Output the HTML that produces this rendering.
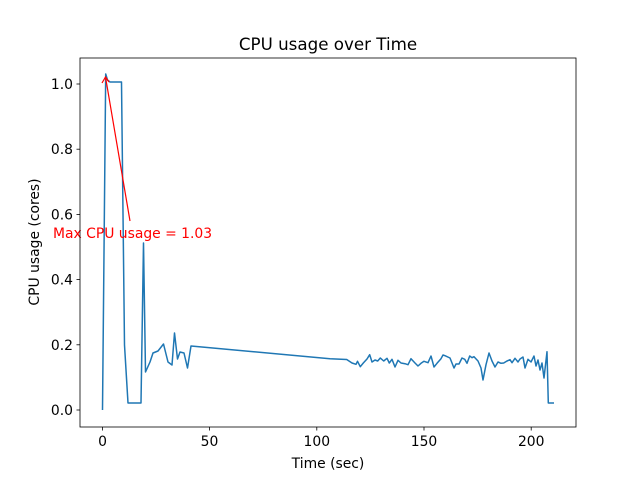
<!DOCTYPE html>
<html><head><style>body{margin:0;background:#fff}svg{display:block}text{font-family:"DejaVu Sans","Liberation Sans",sans-serif}</style></head><body>
<svg width="640" height="480" xmlns="http://www.w3.org/2000/svg">
<rect width="640" height="480" fill="#fff"/>
<text x="328" y="50" font-size="16.7" text-anchor="middle">CPU usage over Time</text>
<polyline fill="none" stroke="#1f77b4" stroke-width="1.5" stroke-linejoin="round" points="102.5,410 105.7,74 107.5,80 110,82 121,82 121.5,82 124.5,345 128,403 141,403 143.5,243 145.5,372 150,362 153,353 158,351 163.5,344 168,362 172,365 174.5,333 177.5,359 180,352 184,353 187.5,368 191,346 330,358.7 346.7,359.5 352,363 356,364.3 357.5,361.3 360.3,366.7 363.3,363 367,359 369.7,354.7 372,362 375,360 377.7,361 380.3,358 383.7,361 387,358.3 389.3,363 392,359.3 395,367 398,360.3 401,363 405,363.7 408,364.7 411,358.7 415,363 418,366 421,363.3 424,361.3 428,362.7 431,356 434,367 437,363.3 441,358.7 443,355 445,355.7 450,358 454,368 456,364 459,364 462,358 464.7,359.3 467,363.3 469.7,356 472,357.7 474,356.7 478,361 481,368 483,380 486,364.7 489,353 492,361 495,367 498,362 501,363.3 503.7,363 507,361 510,359.7 512,362.7 515,358.3 518,362 520,359 523,357 525,368 528,359.3 531,362 534,356 536,366 538,360 540,370 542,363 544,378 547,351.7 548.3,403 554,403"/>
<line x1="130" y1="221" x2="105.5" y2="77" stroke="red" stroke-width="1.2"/>
<polyline points="102,83 105.5,77 109,82" fill="none" stroke="red" stroke-width="1.2"/>
<text x="53" y="238" font-size="13.9" fill="red">Max CPU usage = 1.03</text>
<rect x="80" y="58" width="496" height="369" fill="none" stroke="#000" stroke-width="0.8"/>
<g stroke="#000" stroke-width="0.8">
<line x1="102.5" y1="427" x2="102.5" y2="430.5"/><line x1="209.5" y1="427" x2="209.5" y2="430.5"/><line x1="316.8" y1="427" x2="316.8" y2="430.5"/><line x1="424" y1="427" x2="424" y2="430.5"/><line x1="531.2" y1="427" x2="531.2" y2="430.5"/>
<line x1="76.5" y1="410" x2="80" y2="410"/><line x1="76.5" y1="344.8" x2="80" y2="344.8"/><line x1="76.5" y1="279.6" x2="80" y2="279.6"/><line x1="76.5" y1="214.4" x2="80" y2="214.4"/><line x1="76.5" y1="149.2" x2="80" y2="149.2"/><line x1="76.5" y1="84" x2="80" y2="84"/>
</g>
<g font-size="13.9" text-anchor="middle">
<text x="102.5" y="446">0</text><text x="209.5" y="446">50</text><text x="316.8" y="446">100</text><text x="424" y="446">150</text><text x="531.2" y="446">200</text>
<text x="328" y="468">Time (sec)</text>
</g>
<g font-size="13.9" text-anchor="end">
<text x="73" y="415">0.0</text><text x="73" y="349.8">0.2</text><text x="73" y="284.6">0.4</text><text x="73" y="219.4">0.6</text><text x="73" y="154.2">0.8</text><text x="73" y="89">1.0</text>
</g>
<text transform="translate(39,242) rotate(-90)" font-size="13.9" text-anchor="middle">CPU usage (cores)</text>
</svg>
</body></html>
